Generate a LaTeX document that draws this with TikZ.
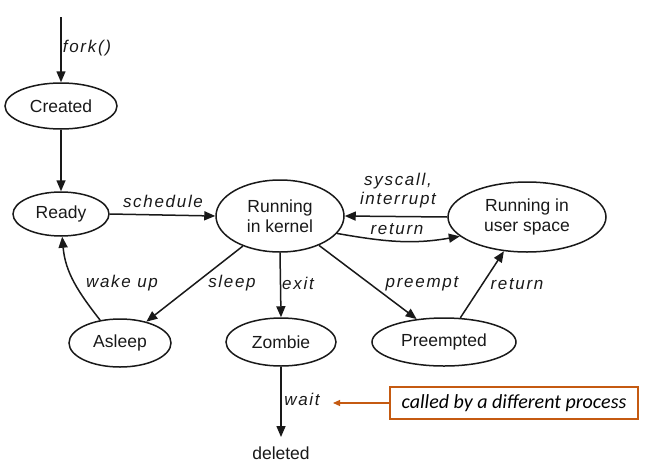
\documentclass[tikz,border=0pt]{standalone}
\usepackage{fontspec}
\setmainfont{Liberation Sans}
\newfontfamily\lblfont[LetterSpace=10]{Liberation Sans}
\newfontfamily\boxfont{Carlito}
\usetikzlibrary{arrows.meta,shapes.geometric}
\definecolor{ink}{RGB}{25,25,25}
\definecolor{accent}{RGB}{197,90,17}
\begin{document}
\begin{tikzpicture}[x=1pt,y=1pt,
  state/.style={ellipse,draw=ink,line width=1.5pt,inner sep=0pt,align=center,text=ink,
    font=\fontsize{17.5}{20}\selectfont},
  trans/.style={draw=ink,line width=1.5pt,-{Triangle[length=11pt,width=9pt]}},
  lbl/.style={font=\lblfont\itshape\fontsize{17}{19}\selectfont,text=ink,inner sep=0pt,align=center},
  plain/.style={font=\fontsize{17.5}{20}\selectfont,text=ink},
]
\useasboundingbox (0,0) rectangle (655,-474);
% states
\node[state,minimum width=112pt,minimum height=46pt] (created) at (61,-106) {Created};
\node[state,minimum width=96pt,minimum height=44pt] (ready) at (61,-214) {Ready};
\node[state,minimum width=128pt,minimum height=72pt] (kernel) at (280,-216) {Running\\in kernel};
\node[state,minimum width=158pt,minimum height=70pt] (user) at (527,-217) {Running in\\user space};
\node[state,minimum width=102pt,minimum height=48pt] (asleep) at (120,-343) {Asleep};
\node[state,minimum width=110pt,minimum height=48pt] (zombie) at (281,-342) {Zombie};
\node[state,minimum width=144pt,minimum height=48pt] (preempted) at (444,-342) {Preempted};
\node[plain,anchor=north,inner xsep=0pt,inner ysep=10pt] (deleted) at (281,-437) {deleted};
\coordinate (start) at (61,-17);
% transitions
\draw[trans] (start) -- (created.north);
\draw[trans] (created.south) -- (ready.north);
\draw[trans] (ready.east) -- (kernel.west);
\draw[trans] (user.west) -- (kernel.east);
\draw[trans] (kernel.-17) to[out=-10,in=-170] (user.-164);
\draw[trans] (kernel.-141) -- (asleep.39);
\draw[trans] (kernel.south) -- (zombie.north);
\draw[trans] (kernel.-37) -- (preempted.140);
\draw[trans] (preempted.56) -- (user.-124);
\draw[trans] (asleep.131) to[out=128,in=-85] (ready.-87);
\draw[trans] (zombie.south) -- (deleted.north);
% labels
\node[lbl] (lfork) at (87,-48) {fork()};
\node[lbl] (lsched) at (163,-201) {schedule};
\node[lbl] (lsys) at (398,-191) {syscall,\\interrupt};
\node[lbl] (lret1) at (397,-229) {return};
\node[lbl] (lsleep) at (232,-283) {sleep};
\node[lbl] (lexit) at (298,-283) {exit};
\node[lbl] (lwake) at (122,-283) {wake up};
\node[lbl] (lpre) at (422,-284) {preempt};
\node[lbl] (lret2) at (517,-284) {return};
\node[lbl] (lwait) at (302,-399) {wait};
% note
\node[draw=accent,line width=1.4pt,minimum width=248pt,minimum height=32pt,inner sep=0pt,
  font=\boxfont\itshape\fontsize{20}{22}\selectfont,text=black] (note) at (514,-403) {called by a different process};
\coordinate (waitpt) at (333,-403);
\draw[accent,line width=1.2pt,-{Triangle[length=7pt,width=6pt]}] (note.west) -- (waitpt);
\end{tikzpicture}
\end{document}
